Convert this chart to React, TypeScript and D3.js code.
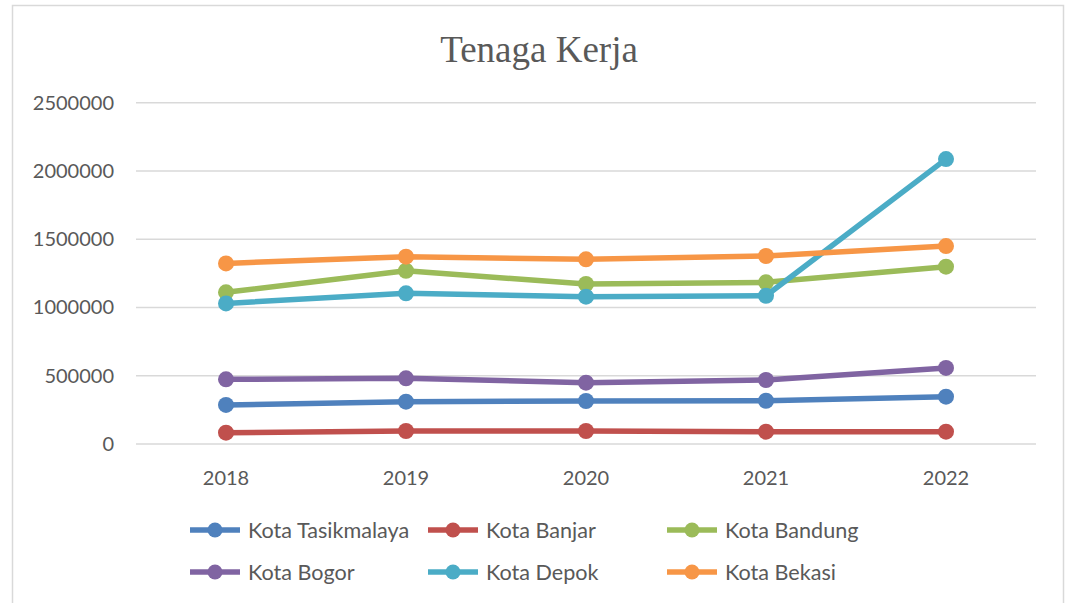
import React, { useEffect, useRef } from "react";
import * as d3 from "d3";

const years = ["2018", "2019", "2020", "2021", "2022"];
const seriesNames = ["Kota Tasikmalaya", "Kota Banjar", "Kota Bandung", "Kota Bogor", "Kota Depok", "Kota Bekasi"];
const tasikmalaya = [286000, 310000, 315000, 317000, 347000];
const banjar = [83000, 95000, 95000, 90000, 90000];
const bandung = [1111000, 1269000, 1172000, 1184000, 1299000];
const bogor = [474000, 481000, 449000, 469000, 557000];
const depok = [1030000, 1104000, 1079000, 1086000, 2087000];
const bekasi = [1323000, 1372000, 1353000, 1377000, 1450000];
const yTicks = [0, 500000, 1000000, 1500000, 2000000, 2500000];
const colors = ["#4f81bd", "#c0504d", "#9bbb59", "#8064a2", "#4bacc6", "#f79646"];
const title = "Tenaga Kerja";

const W = 1069;
const H = 603;

export default function App() {
  const ref = useRef<SVGSVGElement | null>(null);
  useEffect(() => {
    const svg = d3.select(ref.current);
    svg.selectAll("*").remove();
    const values = [tasikmalaya, banjar, bandung, bogor, depok, bekasi];

    const x = d3.scaleBand<string>().domain(years).range([136, 1036]);
    const y = d3.scaleLinear().domain([0, 2500000]).range([444, 102.7]);

    svg.append("rect").attr("x", 0).attr("y", 0).attr("width", W).attr("height", H).attr("fill", "#fff");
    svg.append("rect").attr("x", 12.5).attr("y", 5.5).attr("width", 1051).attr("height", 620)
      .attr("fill", "none").attr("stroke", "#d9d9d9").attr("stroke-width", 1.5);

    svg.append("text").attr("x", 539).attr("y", 62).attr("text-anchor", "middle")
      .attr("font-family", "'Liberation Serif', 'Times New Roman', serif").attr("font-size", 37)
      .attr("fill", "#595959").text(title);

    // gridlines
    svg.append("g").selectAll("line").data(yTicks).join("line")
      .attr("x1", 136).attr("x2", 1036)
      .attr("y1", d => y(d)).attr("y2", d => y(d))
      .attr("stroke", "#d9d9d9").attr("stroke-width", 1.5);

    svg.append("g").selectAll("text").data(yTicks).join("text")
      .attr("x", 114).attr("y", d => y(d)).attr("dy", "0.35em").attr("text-anchor", "end")
      .attr("font-family", "Lato, 'Open Sans', sans-serif").attr("font-size", 20).attr("fill", "#595959")
      .text(d => String(d));

    svg.append("g").selectAll("text").data(years).join("text")
      .attr("x", d => (x(d) as number) + x.bandwidth() / 2).attr("y", 478).attr("dy", "0.35em")
      .attr("text-anchor", "middle")
      .attr("font-family", "Lato, 'Open Sans', sans-serif").attr("font-size", 20).attr("fill", "#595959")
      .text(d => d);

    const line = d3.line<number>()
      .x((_, i) => (x(years[i]) as number) + x.bandwidth() / 2)
      .y(d => y(d));

    values.forEach((vals, si) => {
      const g = svg.append("g");
      g.append("path").attr("d", line(vals) as string).attr("fill", "none")
        .attr("stroke", colors[si]).attr("stroke-width", 5.5).attr("stroke-linejoin", "round");
      g.selectAll("circle").data(vals).join("circle")
        .attr("cx", (_, i) => (x(years[i]) as number) + x.bandwidth() / 2)
        .attr("cy", d => y(d)).attr("r", 8).attr("fill", colors[si]);
    });

    // legend
    const colX = [190, 428, 667];
    const rowY = [530, 572];
    seriesNames.forEach((name, i) => {
      const cx = colX[i % 3];
      const cy = rowY[Math.floor(i / 3)];
      const g = svg.append("g");
      g.append("line").attr("x1", cx).attr("x2", cx + 50).attr("y1", cy).attr("y2", cy)
        .attr("stroke", colors[i]).attr("stroke-width", 5.5);
      g.append("circle").attr("cx", cx + 25).attr("cy", cy).attr("r", 7.5).attr("fill", colors[i]);
      g.append("text").attr("x", cx + 58).attr("y", cy).attr("dy", "0.35em")
        .attr("font-family", "Lato, 'Open Sans', sans-serif").attr("font-size", 21.6).attr("fill", "#595959")
        .text(name);
    });
  }, []);
  return (
    <svg ref={ref} width={W} height={H} style={{ position: "absolute", left: 0, top: 0 }} />
  );
}
